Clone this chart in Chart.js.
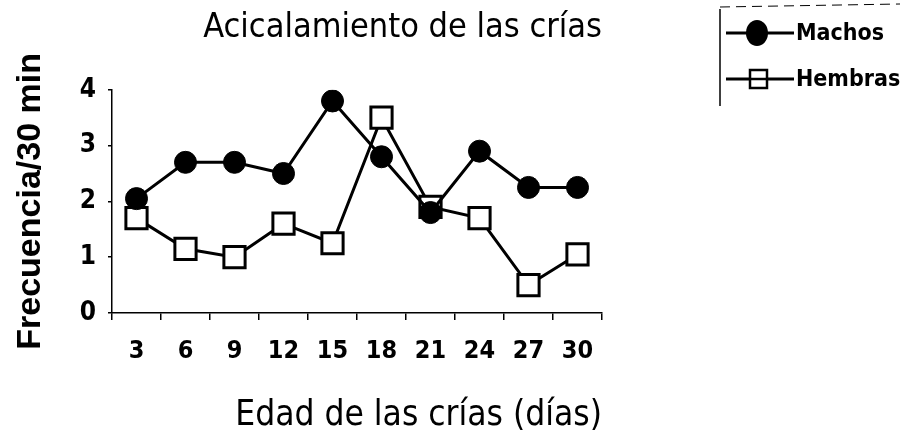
<!DOCTYPE html>
<html lang="es">
<head>
<meta charset="UTF-8">
<title>Acicalamiento de las crías</title>
<script src="https://cdn.jsdelivr.net/npm/chart.js"></script>
<style>
  html, body { margin: 0; padding: 0; background: #fff; }
  #wrap { width: 909px; height: 437px; }
</style>
</head>
<body>
<div id="wrap"><canvas id="grafico"></canvas></div>
<script>
// datos
var dias = ['3', '6', '9', '12', '15', '18', '21', '24', '27', '30'];
var machos = [2.05, 2.7, 2.7, 2.5, 3.8, 2.8, 1.8, 2.9, 2.25, 2.25];
var hembras = [1.7, 1.15, 1.0, 1.6, 1.25, 3.5, 1.9, 1.7, 0.5, 1.05];
var yTicks = [0, 1, 2, 3, 4];

var narrow = "'DejaVu Sans Condensed', 'Liberation Sans Narrow', sans-serif";
var wide = "'Liberation Sans', Arial, sans-serif";

// leyenda dibujada a mano (linea + marcador como en el original)
var leyenda = {
    id: 'leyenda',
    afterDraw: function (chart) {
        var ctx = chart.ctx;
        ctx.save();
        ctx.strokeStyle = '#000';
        ctx.lineWidth = 1.5;
        ctx.beginPath();
        ctx.moveTo(720, 9); ctx.lineTo(720, 106);
        ctx.stroke();
        ctx.setLineDash([10, 6]);
        ctx.lineWidth = 1;
        ctx.beginPath();
        ctx.moveTo(720, 7); ctx.lineTo(900, 4);
        ctx.stroke();
        ctx.setLineDash([]);

        var items = [
            { text: 'Machos', y: 33, tipo: 'circle' },
            { text: 'Hembras', y: 79, tipo: 'rect' }
        ];
        items.forEach(function (it) {
            ctx.lineWidth = 3;
            ctx.strokeStyle = '#000';
            ctx.beginPath();
            ctx.moveTo(726, it.y); ctx.lineTo(794, it.y);
            ctx.stroke();
            if (it.tipo === 'circle') {
                ctx.fillStyle = '#000';
                ctx.beginPath();
                ctx.ellipse(757, it.y, 11, 13, 0, 0, Math.PI * 2);
                ctx.fill();
            } else {
                ctx.fillStyle = '#fff';
                ctx.lineWidth = 2.5;
                ctx.fillRect(750, it.y - 9, 17, 18);
                ctx.strokeRect(750, it.y - 9, 17, 18);
                ctx.beginPath();
                ctx.moveTo(750, it.y); ctx.lineTo(767, it.y);
                ctx.stroke();
            }
            ctx.fillStyle = '#000';
            ctx.font = 'bold 23px ' + narrow;
            ctx.textBaseline = 'middle';
            ctx.fillText(it.text, 796, it.y + 1);
        });
        ctx.restore();
    }
};

new Chart(document.getElementById('grafico'), {
    type: 'line',
    data: {
        labels: dias,
        datasets: [{
            label: 'Machos',
            data: machos,
            borderColor: '#000',
            borderWidth: 3,
            backgroundColor: '#000',
            pointStyle: 'circle',
            pointRadius: 11,
            pointBorderWidth: 1,
            pointBackgroundColor: '#000',
            tension: 0
        }, {
            label: 'Hembras',
            data: hembras,
            borderColor: '#000',
            borderWidth: 3,
            backgroundColor: '#fff',
            pointStyle: 'rect',
            pointRadius: 15,
            pointBorderWidth: 3,
            pointBackgroundColor: '#fff',
            tension: 0
        }]
    },
    options: {
        responsive: true,
        maintainAspectRatio: false,
        animation: false,
        layout: { padding: { top: 8, left: 10, right: 307, bottom: 0 } },
        plugins: {
            legend: { display: false },
            tooltip: { enabled: false },
            title: {
                display: true,
                text: 'Acicalamiento de las crías',
                align: 'end',
                color: '#000',
                font: { family: narrow, size: 34, weight: 'normal' },
                padding: { top: 0, bottom: 41 }
            }
        },
        scales: {
            x: {
                offset: true,
                grid: { offset: true, drawOnChartArea: false, drawTicks: true, tickLength: 7, color: '#000', lineWidth: 1.5 },
                border: { display: true, color: '#000', width: 1.5, dash: [8, 3] },
                ticks: { color: '#000', padding: 16, maxRotation: 0, font: { family: narrow, size: 25, weight: 'bold' } },
                title: {
                    display: true,
                    text: 'Edad de las crías (días)',
                    align: 'end',
                    color: '#000',
                    font: { family: narrow, size: 35, weight: 'normal' },
                    padding: { top: 0, bottom: 0 }
                },
                afterFit: function (scale) { scale.height = 124; }
            },
            y: {
                min: 0,
                max: 4,
                afterBuildTicks: function (scale) {
                    scale.ticks = yTicks.map(function (v) { return { value: v }; });
                },
                grid: { drawOnChartArea: false, drawTicks: true, tickLength: 4, color: '#000', lineWidth: 1.5 },
                border: { display: true, color: '#000', width: 1.5, dash: [6, 4] },
                ticks: { color: '#000', padding: 12, font: { family: narrow, size: 26, weight: 'bold' } },
                title: {
                    display: true,
                    text: 'Frecuencia/30 min',
                    color: '#000',
                    font: { family: wide, size: 34, weight: 'bold' },
                    padding: { top: 0, bottom: 0 }
                },
                afterFit: function (scale) { scale.width = 102; }
            }
        }
    },
    plugins: [leyenda]
});
</script>
</body>
</html>
